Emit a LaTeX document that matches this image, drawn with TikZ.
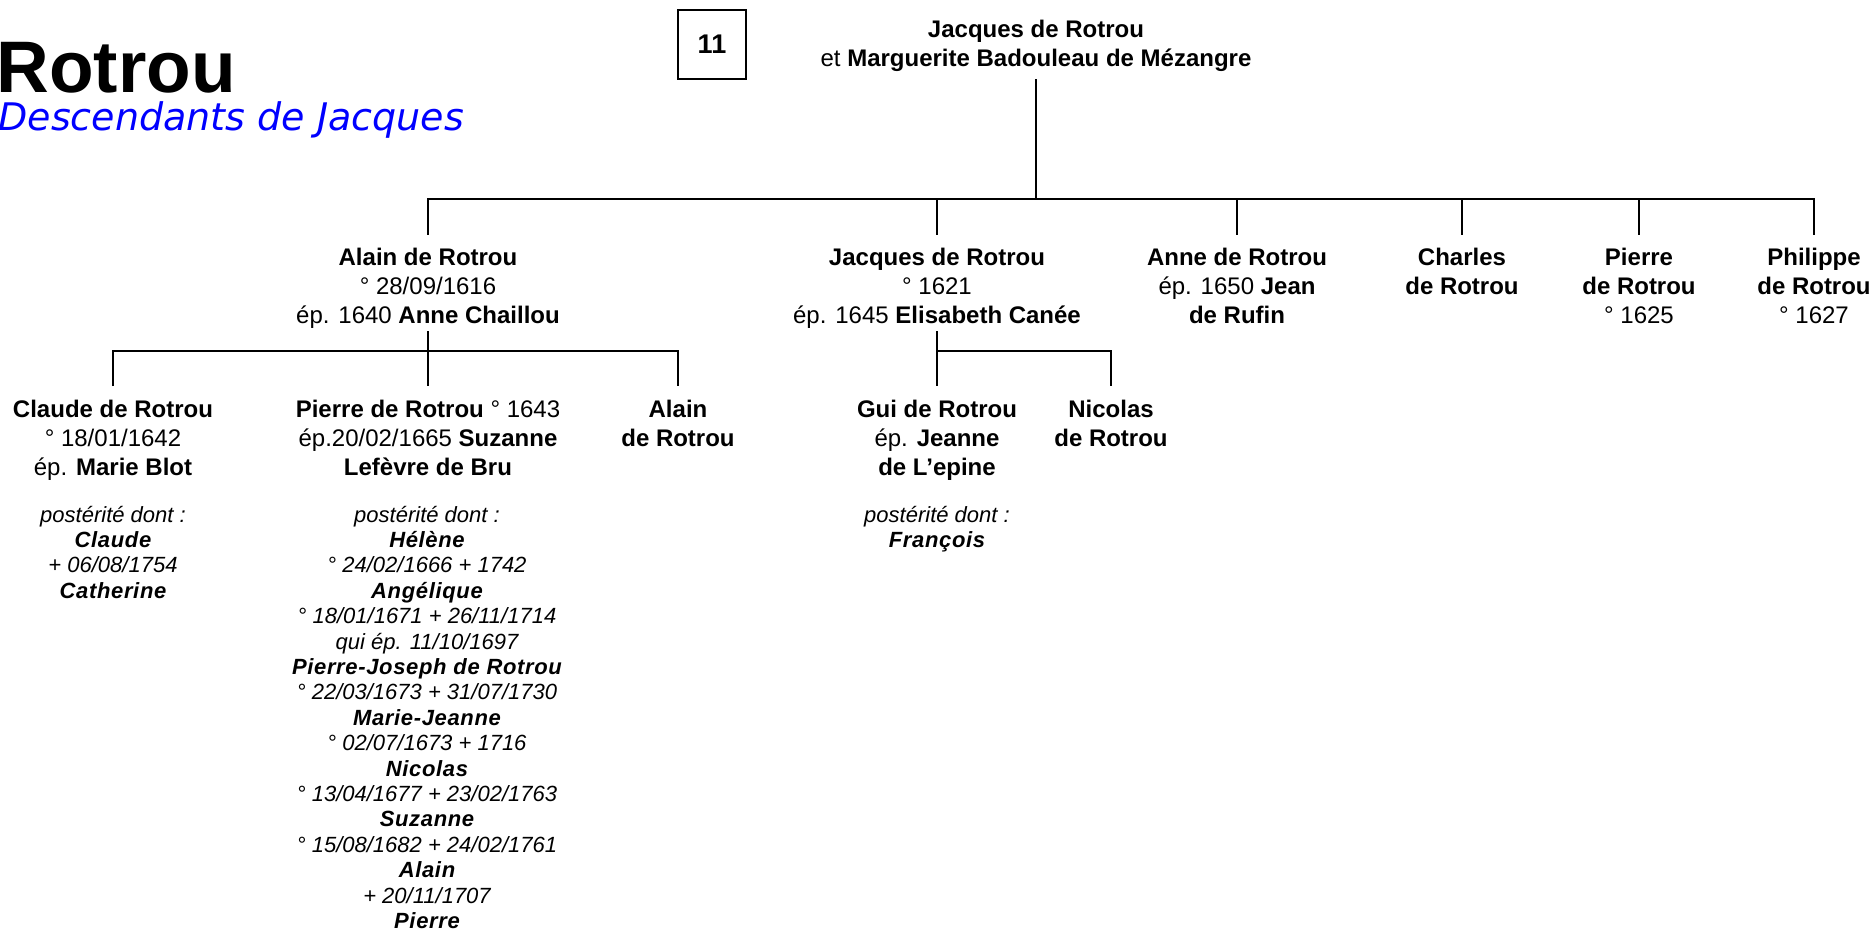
\documentclass[tikz,border=0pt]{standalone}
\usepackage{fontspec}
\setmainfont{Liberation Sans}
\newfontfamily\verdana{DejaVu Sans}
\newcommand{\nm}[1]{{\bfseries\addfontfeature{LetterSpace=3}#1}}
\definecolor{titleblue}{RGB}{0,0,255}

\begin{document}
\begin{tikzpicture}[x=0.5pt,y=-0.5pt,
    person/.style={align=center,anchor=base,inner sep=0pt,font=\fontsize{12}{14.5}\selectfont},
    issue/.style={align=center,anchor=base,inner sep=0pt,font=\fontsize{11}{12.7}\selectfont\itshape},
    link/.style={line width=1pt}]
        \useasboundingbox (0,0) rectangle (1876,933);
        % titre
        \node[anchor=base west,inner sep=0pt,font=\fontsize{36.5}{40}\selectfont\bfseries] (title) at (-4,92) {Rotrou};
        \node[anchor=base west,inner sep=0pt,font=\fontsize{19}{22}\selectfont\verdana\itshape,text=titleblue] (subtitle) at (-2,130) {Descendants de Jacques};
        \node[draw,line width=0.6pt,minimum width=34pt,minimum height=34.5pt,inner sep=0pt,font=\fontsize{13.5}{16}\selectfont\bfseries] (num) at (712,44.5) {11};
        % couple (base = derniere ligne)
        \node[person] (couple) at (1036,66) {\textbf{Jacques de Rotrou}\\et \textbf{Marguerite Badouleau de Mézangre}};
        % enfants
        \node[person] (alain) at (428,323) {\textbf{Alain de Rotrou}\\° 28/09/1616\\ép. 1640 \textbf{Anne Chaillou}};
        \node[person] (jacques) at (937,323) {\textbf{Jacques de Rotrou}\\° 1621\\ép. 1645 \textbf{Elisabeth Canée}};
        \node[person] (anne) at (1237,323) {\textbf{Anne de Rotrou}\\ép. 1650 \textbf{Jean}\\\textbf{de Rufin}};
        \node[person] (charles) at (1462,294) {\textbf{Charles}\\\textbf{de Rotrou}};
        \node[person] (pierre) at (1639,323) {\textbf{Pierre}\\\textbf{de Rotrou}\\° 1625};
        \node[person] (philippe) at (1814,323) {\textbf{Philippe}\\\textbf{de Rotrou}\\° 1627};
        % petits-enfants
        \node[person] (claude) at (113,475) {\textbf{Claude de Rotrou}\\° 18/01/1642\\ép. \textbf{Marie Blot}};
        \node[person] (pierreb) at (428,475) {\textbf{Pierre de Rotrou} ° 1643\\ép.20/02/1665 \textbf{Suzanne}\\\textbf{Lefèvre de Bru}};
        \node[person] (alainb) at (678,446) {\textbf{Alain}\\\textbf{de Rotrou}};
        \node[person] (gui) at (937,475) {\textbf{Gui de Rotrou}\\ép. \textbf{Jeanne}\\\textbf{de L’epine}};
        \node[person] (nicolas) at (1111,446) {\textbf{Nicolas}\\\textbf{de Rotrou}};
        % posterite
        \node[issue] (claudeissue) at (113,598.2) {postérité dont :\\\nm{Claude}\\+ 06/08/1754\\\nm{Catherine}};
        \node[issue] (pierreissue) at (427,928.4) {postérité dont :\\\nm{Hélène}\\° 24/02/1666 + 1742\\\nm{Angélique}\\° 18/01/1671 + 26/11/1714\\qui ép. 11/10/1697\\\nm{Pierre-Joseph de Rotrou}\\° 22/03/1673 + 31/07/1730\\\nm{Marie-Jeanne}\\° 02/07/1673 + 1716\\\nm{Nicolas}\\° 13/04/1677 + 23/02/1763\\\nm{Suzanne}\\° 15/08/1682 + 24/02/1761\\\nm{Alain}\\+ 20/11/1707\\\nm{Pierre}};
        \node[issue] (guiissue) at (937,547.4) {postérité dont :\\\nm{François}};
        % traits
        \coordinate (bar1) at (0,199);
        \coordinate (drop1) at (0,234.5);
        \coordinate (bar2) at (0,350.5);
        \coordinate (drop2) at (0,386);
        \draw[link] ([yshift=-4pt]couple.south) -- (couple |- bar1);
        \draw[link] (alain |- drop1) -- (alain |- bar1) -- (philippe |- bar1) -- (philippe |- drop1);
        \foreach \n in {jacques,anne,charles,pierre}
            \draw[link] (\n |- bar1) -- (\n |- drop1);
        \draw[link] ([yshift=-1.5pt]alain.south) -- (pierreb |- drop2);
        \draw[link] (claude |- drop2) -- (claude |- bar2) -- (alainb |- bar2) -- (alainb |- drop2);
        \draw[link] ([yshift=-1.5pt]jacques.south) -- (gui |- drop2);
        \draw[link] (gui |- bar2) -- (nicolas |- bar2) -- (nicolas |- drop2);
    \end{tikzpicture}
\end{document}
